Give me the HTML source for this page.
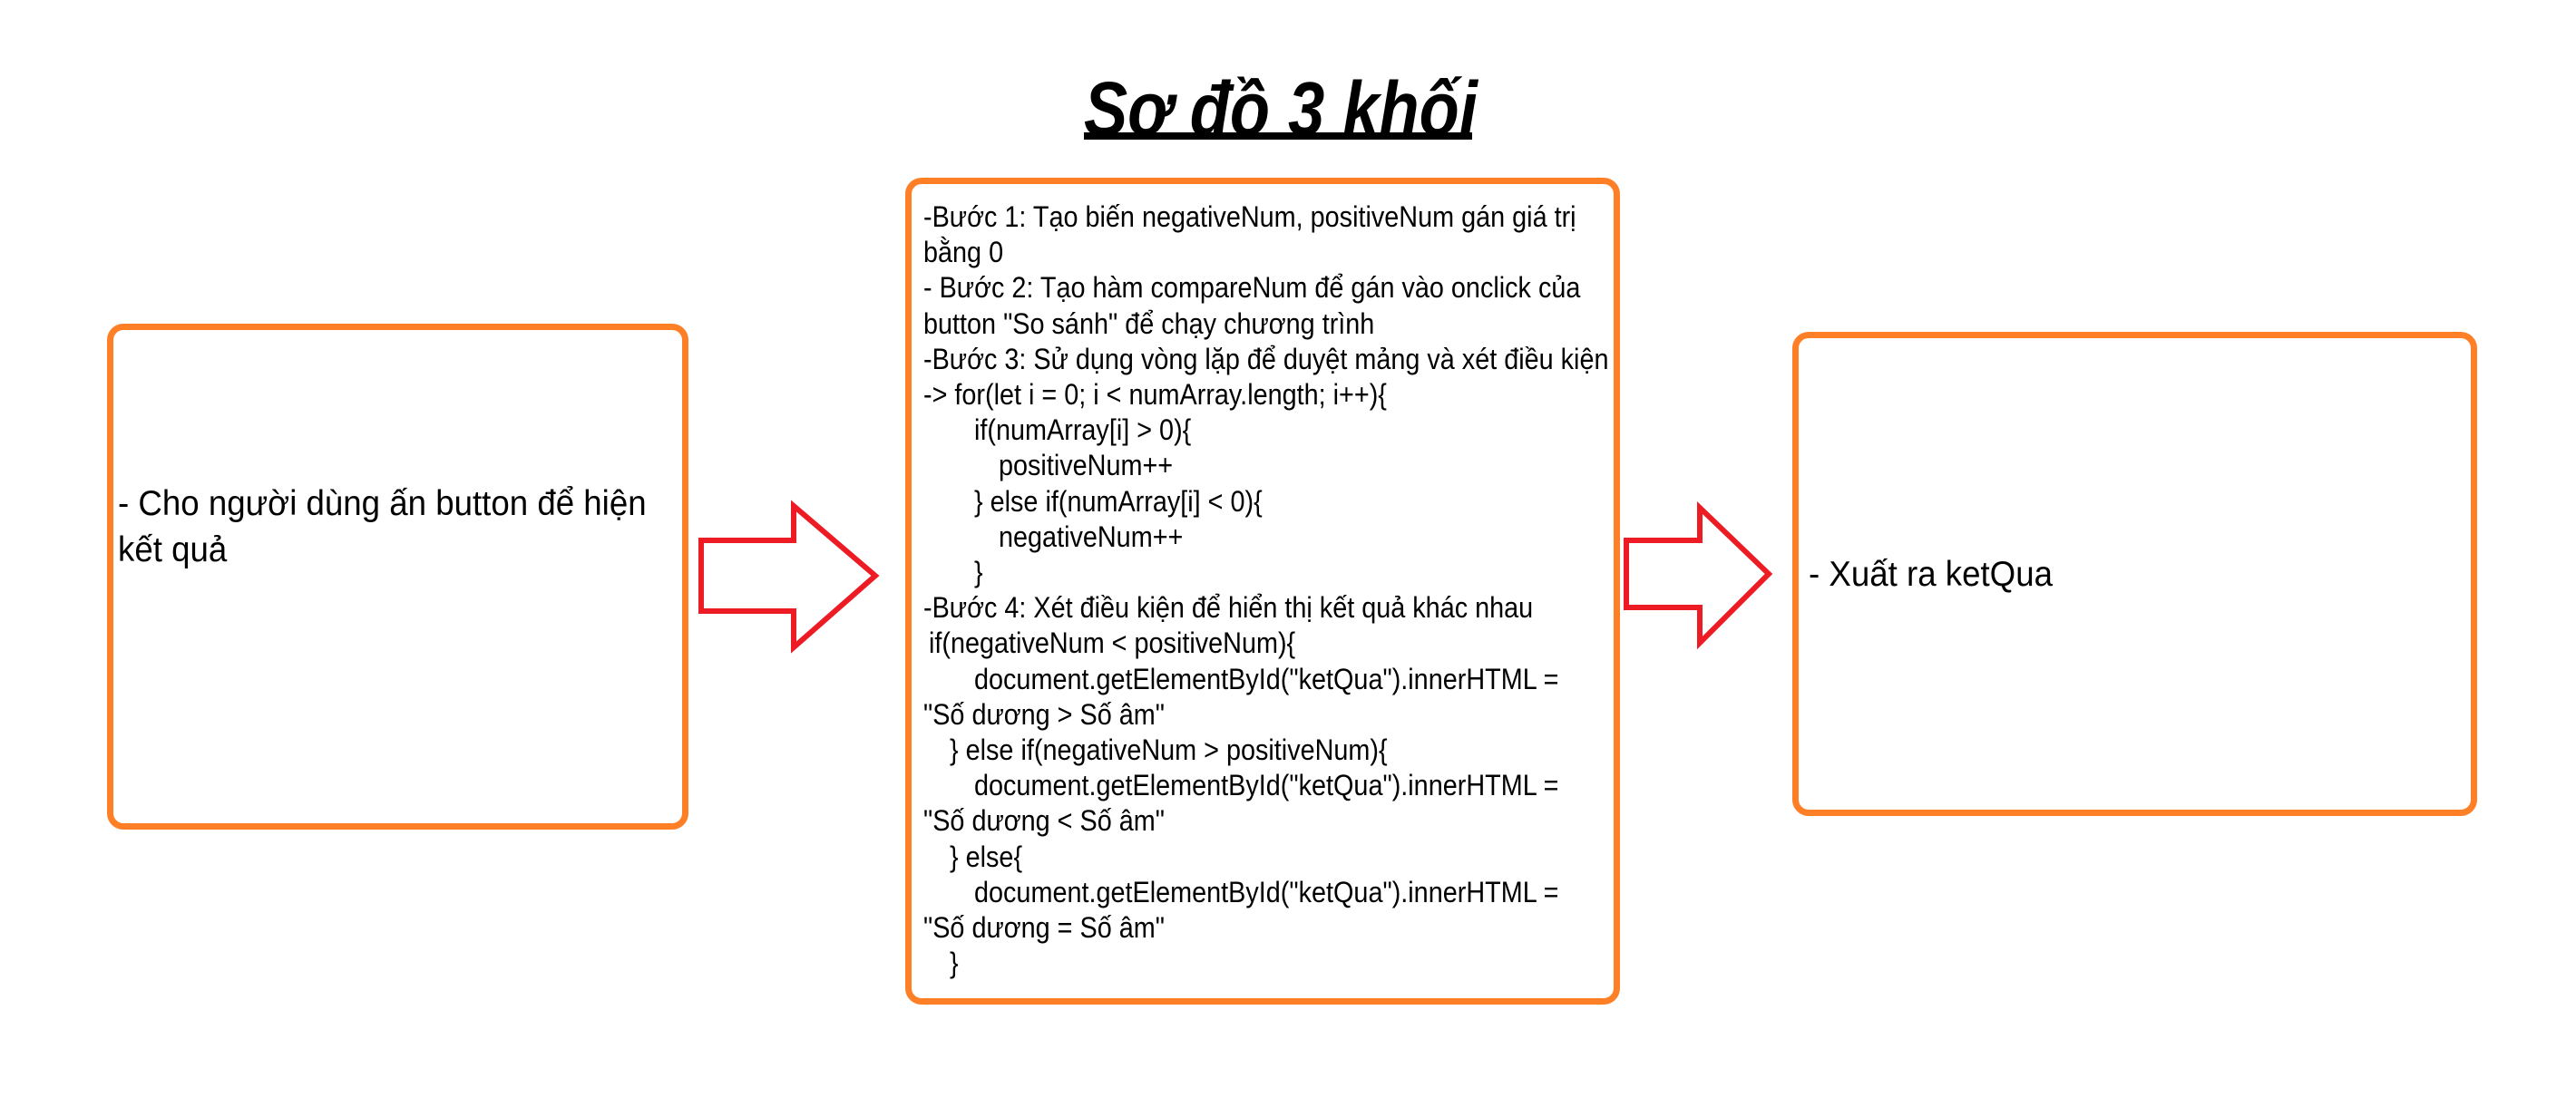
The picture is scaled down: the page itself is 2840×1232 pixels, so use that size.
<!DOCTYPE html>
<html><head><meta charset="utf-8">
<style>
html,body{margin:0;padding:0;background:#fff;}
body{width:2840px;height:1232px;position:relative;overflow:hidden;font-family:"Liberation Sans","DejaVu Sans",sans-serif;color:#000;}
.box{position:absolute;border:7px solid #FF7F27;border-radius:18px;box-sizing:border-box;background:#fff;}
.t{position:absolute;white-space:pre;font-size:32px;line-height:40px;transform:scaleX(0.9);transform-origin:left center;}
.big{position:absolute;white-space:pre;font-size:39px;line-height:50px;transform:scaleX(0.94);transform-origin:left center;}
.title{position:absolute;left:1195px;top:70px;font-size:84px;font-weight:bold;font-style:italic;line-height:100px;white-space:pre;transform:scaleX(0.86);transform-origin:left center;}
.ul{position:absolute;left:1195px;top:146px;width:428px;height:8px;background:#000;}
</style></head><body>
<div class="title">Sơ đồ 3 khối</div>
<div class="ul"></div>

<div class="box" style="left:118px;top:357px;width:641px;height:558px;"></div>
<div class="box" style="left:998px;top:196px;width:788px;height:912px;"></div>
<div class="box" style="left:1976px;top:366px;width:755px;height:534px;"></div>

<div class="big" style="left:130px;top:531px;">- Cho người dùng ấn button để hiện</div>
<div class="big" style="left:130px;top:582px;">kết quả</div>
<div class="big" style="left:1994px;top:609px;">- Xuất ra ketQua</div>

<svg style="position:absolute;left:0;top:0" width="2840" height="1232">
<polygon points="773,596 875,596 875,558 965,635 875,714 875,674 773,674" fill="#fff" stroke="#ED1C24" stroke-width="6"/>
<polygon points="1793,596 1874,596 1874,560 1950,633 1874,709 1874,670 1793,670" fill="#fff" stroke="#ED1C24" stroke-width="6"/>
</svg>

<div class="t" style="left:1018px;top:219px;">-Bước 1: Tạo biến negativeNum, positiveNum gán giá trị</div>
<div class="t" style="left:1018px;top:258px;">bằng 0</div>
<div class="t" style="left:1018px;top:297px;">- Bước 2: Tạo hàm compareNum để gán vào onclick của</div>
<div class="t" style="left:1018px;top:337px;">button "So sánh" để chạy chương trình</div>
<div class="t" style="left:1018px;top:376px;">-Bước 3: Sử dụng vòng lặp để duyệt mảng và xét điều kiện</div>
<div class="t" style="left:1018px;top:415px;">-&gt; for(let i = 0; i &lt; numArray.length; i++){</div>
<div class="t" style="left:1074px;top:454px;">if(numArray[i] &gt; 0){</div>
<div class="t" style="left:1101px;top:493px;">positiveNum++</div>
<div class="t" style="left:1074px;top:533px;">} else if(numArray[i] &lt; 0){</div>
<div class="t" style="left:1101px;top:572px;">negativeNum++</div>
<div class="t" style="left:1074px;top:611px;">}</div>
<div class="t" style="left:1018px;top:650px;">-Bước 4: Xét điều kiện để hiển thị kết quả khác nhau</div>
<div class="t" style="left:1024px;top:689px;">if(negativeNum &lt; positiveNum){</div>
<div class="t" style="left:1074px;top:729px;">document.getElementById("ketQua").innerHTML =</div>
<div class="t" style="left:1018px;top:768px;">"Số dương &gt; Số âm"</div>
<div class="t" style="left:1047px;top:807px;">} else if(negativeNum &gt; positiveNum){</div>
<div class="t" style="left:1074px;top:846px;">document.getElementById("ketQua").innerHTML =</div>
<div class="t" style="left:1018px;top:885px;">"Số dương &lt; Số âm"</div>
<div class="t" style="left:1047px;top:925px;">} else{</div>
<div class="t" style="left:1074px;top:964px;">document.getElementById("ketQua").innerHTML =</div>
<div class="t" style="left:1018px;top:1003px;">"Số dương = Số âm"</div>
<div class="t" style="left:1047px;top:1042px;">}</div>
</body></html>
